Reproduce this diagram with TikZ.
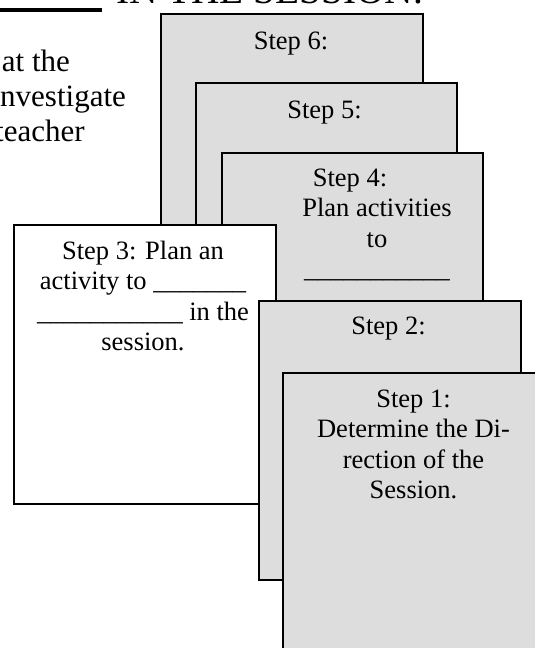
\documentclass[tikz,border=0pt]{standalone}
\usepackage{fontspec}
\setmainfont{Liberation Serif}
\definecolor{boxgray}{RGB}{221,221,221}
\tikzset{
  card/.style={draw=black, line width=2.3pt, fill=boxgray, minimum width=261.5pt,
    minimum height=279.5pt, inner sep=0pt, anchor=north west},
  whitecard/.style={card, fill=white},
  cardtext/.style={font=\fontsize{26.5pt}{30.5pt}\selectfont, align=center,
    inner sep=0pt, anchor=north, text=black},
  bodytext/.style={font=\fontsize{31pt}{35.5pt}\selectfont, inner sep=0pt,
    anchor=base west, text=black},
  headtext/.style={font=\fontsize{39.3pt}{45pt}\selectfont, inner sep=0pt,
    anchor=base west, text=black},
  headrule/.style={line width=3.4pt, draw=black}
}
\begin{document}
\begin{tikzpicture}[x=1pt,y=-1pt]
\useasboundingbox (0,0) rectangle (535,648);
\begin{scope}
\clip (0,0) rectangle (535,648);
% heading (cut off at the top)
\node[headtext] (head) at (116,3.5) {IN THE SESSION.};
\coordinate (ruleA) at (0,10);
\coordinate (ruleB) at (101.7,10);
\draw[headrule] (ruleA) -- (ruleB);
% body text (cut off at the left)
\node[bodytext] (l1) at (1.7,71.7) {at the};
\node[bodytext] (l2) at (-8.6,106.5) {investigate};
\node[bodytext] (l3) at (-5,141.5) {teacher};
% cards, back to front
\node[card] (b6) at (160,12.7) {};
\node[cardtext] (t6) at (291,27.95) {\strut Step 6:};
\node[card] (b5) at (194.5,81.7) {};
\node[cardtext] (t5) at (324.5,96.95) {\strut Step 5:};
\node[card] (b4) at (220.5,151.5) {};
\node[cardtext] (t4) at (377,164.65) {\strut\hspace*{-54pt}Step 4:\\Plan activities\\to\\\_\_\_\_\_\_\_\_\_\_\_};
\node[whitecard] (b3) at (13,223.5) {};
\node[cardtext] (t3) at (143,237.65) {\strut Step 3: Plan an\\activity to \_\_\_\_\_\_\_\\\_\_\_\_\_\_\_\_\_\_\_ in the\\session.};
\node[card] (b2) at (258,299.5) {};
\node[cardtext] (t2) at (388.5,312.65) {\strut Step 2:};
\node[card] (b1) at (282,372) {};
\node[cardtext] (t1) at (413.5,385.65) {\strut Step 1:\\Determine the Di-\\rection of the\\Session.};
\end{scope}
\end{tikzpicture}
\end{document}
